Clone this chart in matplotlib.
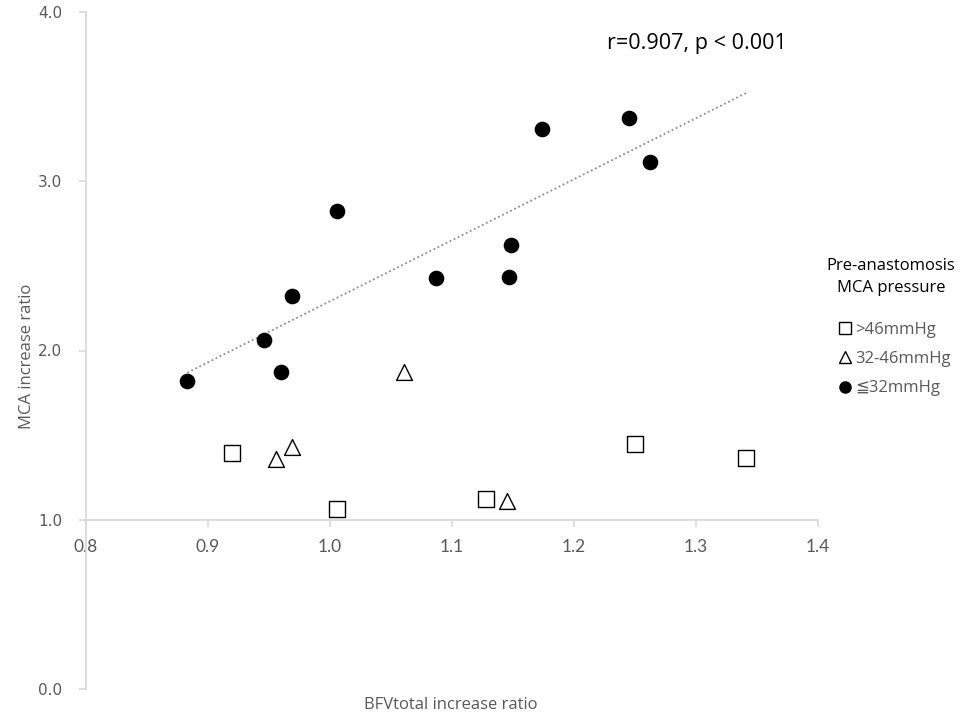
import numpy as np
import matplotlib
matplotlib.use("Agg")
import matplotlib.pyplot as plt
from matplotlib.lines import Line2D

plt.rcParams["font.family"] = ["Open Sans", "DejaVu Sans"]

# >46 mmHg (open squares)
high_x = [0.920, 1.006, 1.128, 1.250, 1.341]
high_y = [1.394, 1.064, 1.123, 1.448, 1.365]

# 32-46 mmHg (open triangles)
mid_x = [0.956, 0.969, 1.061, 1.145]
mid_y = [1.359, 1.430, 1.873, 1.111]

# <=32 mmHg (filled circles)
low_x = [0.883, 0.946, 0.960, 0.969, 1.006, 1.087, 1.147, 1.148, 1.174, 1.245, 1.262]
low_y = [1.820, 2.062, 1.873, 2.322, 2.824, 2.428, 2.434, 2.623, 3.309, 3.374, 3.114]

xticks = [0.8, 0.9, 1.0, 1.1, 1.2, 1.3, 1.4]
yticks = [0.0, 1.0, 2.0, 3.0, 4.0]

grey = "#595959"
axis_col = "#d9d9d9"

fig = plt.figure(figsize=(9.73, 7.21), dpi=100)
ax = fig.add_axes([86 / 973, 32 / 721, 732 / 973, 677 / 721])

ax.scatter(high_x, high_y, marker="s", s=120, facecolors="white",
           edgecolors="black", linewidths=1.0, zorder=3)
ax.scatter(mid_x, mid_y, marker="^", s=130, facecolors="white",
           edgecolors="black", linewidths=1.0, zorder=3)
ax.scatter(low_x, low_y, marker="o", s=105, color="black", zorder=3)

# linear trend of the <=32 mmHg group
slope, icpt = np.polyfit(low_x, low_y, 1)
tx = np.array([min(low_x), max(high_x)])
ax.plot(tx, slope * tx + icpt, linestyle=(0, (1, 1.5)), color="#8c8c8c",
        linewidth=1.3, zorder=2)

ax.set_xlim(0.8, 1.4)
ax.set_ylim(0.0, 4.0)
ax.set_xticks(xticks)
ax.set_yticks(yticks)
ax.set_xticklabels([f"{v:.1f}" for v in xticks])
ax.set_yticklabels([f"{v:.1f}" for v in yticks])

for s in ["top", "right"]:
    ax.spines[s].set_visible(False)
ax.spines["bottom"].set_position(("data", 1.0))
ax.spines["bottom"].set_color(axis_col)
ax.spines["left"].set_color(axis_col)
ax.spines["bottom"].set_linewidth(1.3)
ax.spines["left"].set_linewidth(1.3)
ax.tick_params(axis="both", colors=axis_col, labelcolor=grey,
               length=5, width=1.2)
ax.tick_params(axis="x", pad=9, labelsize=12.5)
ax.tick_params(axis="y", pad=12, labelsize=11)
for lab in ax.get_xticklabels():
    lab.set_fontfamily(["Lato", "DejaVu Sans"])
for lab in ax.get_yticklabels():
    lab.set_fontfamily(["DejaVu Sans"])

fig.text(451 / 973, 1 - 705 / 721, "BFVtotal increase ratio", ha="center",
         va="center", fontsize=12, color=grey)
fig.text(27 / 973, 1 - 356 / 721, "MCA increase ratio", ha="center",
         va="center", rotation=90, fontsize=12, color=grey)

fig.text(697 / 973, 1 - 43 / 721, "r=0.907, p < 0.001", ha="center",
         va="center", fontsize=15.5, color="black")

# legend title and entries
fig.text(891 / 973, 1 - 277 / 721, "Pre-anastomosis\nMCA pressure",
         ha="center", va="center", fontsize=12, color="black",
         linespacing=1.5)

handles = [
    Line2D([], [], marker="s", linestyle="none", markersize=9,
           markerfacecolor="white", markeredgecolor="black"),
    Line2D([], [], marker="^", linestyle="none", markersize=9,
           markerfacecolor="white", markeredgecolor="black"),
    Line2D([], [], marker="o", linestyle="none", markersize=8,
           color="black"),
]
labels = [">46mmHg", "32-46mmHg", "\u226632mmHg"]
leg = fig.legend(handles, labels, loc="center left",
                 bbox_to_anchor=(825 / 973, 1 - 359 / 721),
                 frameon=False, fontsize=12,
                 handletextpad=0.1, handlelength=1.0, labelspacing=0.8,
                 borderpad=0.2)
for t in leg.get_texts():
    t.set_color(grey)

fig.savefig("out.png", dpi=100)
